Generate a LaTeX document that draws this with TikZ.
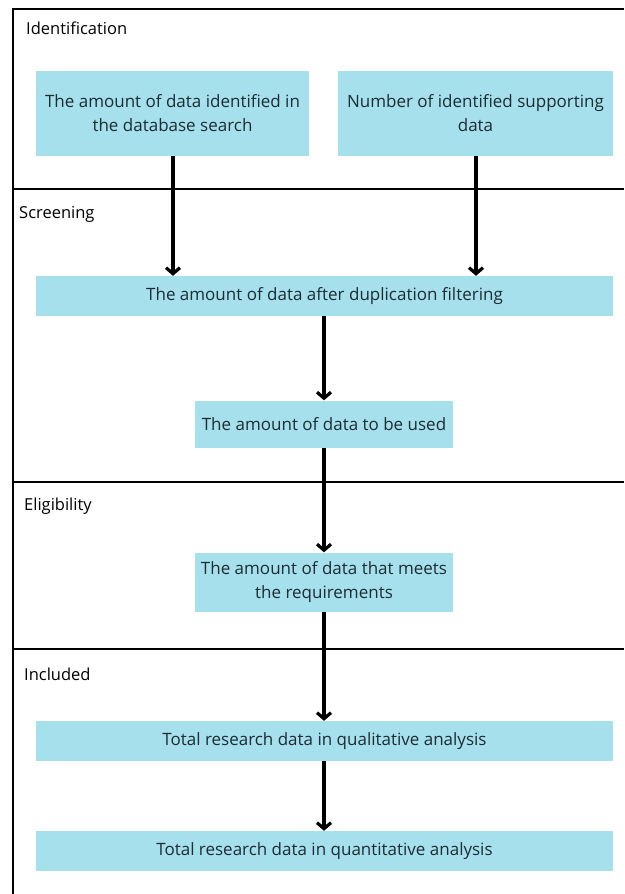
\documentclass[tikz,border=0pt]{standalone}
\usepackage{fontspec}
\setmainfont{Open Sans}
\usetikzlibrary{arrows.meta}
\definecolor{boxcyan}{RGB}{166,224,236}
\definecolor{txtdark}{RGB}{28,44,52}
\tikzset{
  x=1pt, y=-1pt,
  frameline/.style={line width=2.8pt, black},
  sectlabel/.style={anchor=west, inner sep=0pt, font=\fontsize{16.5}{19}\selectfont, text=black},
  flowbox/.style={fill=boxcyan, draw=none, inner sep=0pt, align=center, text=txtdark, font=\fontsize{17}{24}\selectfont},
  flowarrow/.style={line width=3.2pt, black, -{Straight Barb[length=6pt,width=14pt]}}
}
\begin{document}
\begin{tikzpicture}
\useasboundingbox (0,0) rectangle (624,894);
% frame
\draw[line width=2.2pt] (624,9) -- (13,9) -- (13,894);
\draw[frameline] (13,189) -- (624,189);
\draw[frameline] (13,482) -- (624,482);
\draw[frameline] (13,649) -- (624,649);
% section labels
\node[sectlabel] (lid) at (26,28) {Identification};
\node[sectlabel] (lsc) at (19,214) {Screening};
\node[sectlabel] (lel) at (24,506) {Eligibility};
\node[sectlabel] (lin) at (24,674) {Included};
% boxes
\node[flowbox, minimum width=273pt, minimum height=85pt] (a) at (172.5,113) {The amount of data identified in\\the database search};
\node[flowbox, minimum width=275pt, minimum height=85pt] (b) at (475.5,113) {Number of identified supporting\\data};
\node[flowbox, minimum width=577pt, minimum height=40pt] (c) at (324.5,296) {The amount of data after duplication filtering};
\node[flowbox, minimum width=258pt, minimum height=47pt] (d) at (324,424) {The amount of data to be used};
\node[flowbox, minimum width=258pt, minimum height=59pt] (e) at (324,582) {The amount of data that meets\\the requirements};
\node[flowbox, minimum width=577pt, minimum height=40pt] (f) at (324.5,741) {Total research data in qualitative analysis};
\node[flowbox, minimum width=577pt, minimum height=40pt] (g) at (324.5,851) {Total research data in quantitative analysis};
% arrows
\draw[flowarrow] (a.south -| 173,0) -- (c.north -| 173,0);
\draw[flowarrow] (b.south -| 476,0) -- (c.north -| 476,0);
\draw[flowarrow] (c.south -| 324,0) -- (d.north -| 324,0);
\draw[flowarrow] (d.south -| 324,0) -- (e.north -| 324,0);
\draw[flowarrow] (e.south -| 324,0) -- (f.north -| 324,0);
\draw[flowarrow] (f.south -| 324,0) -- (g.north -| 324,0);
\end{tikzpicture}
\end{document}
